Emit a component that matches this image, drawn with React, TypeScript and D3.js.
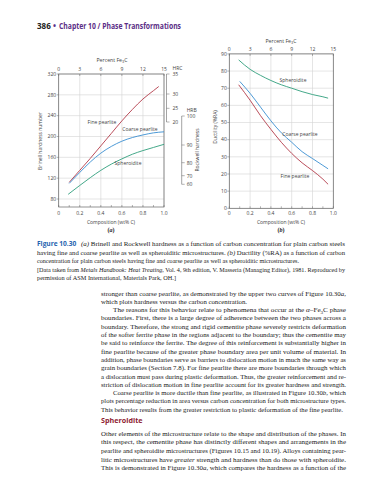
import React from "react";
import * as d3 from "d3";

// ---------- data ----------
const fe3cTicks = [0, 3, 6, 9, 12, 15];
const carbonTicks = [0, 0.2, 0.4, 0.6, 0.8, 1.0];
const brinellTicks = [80, 120, 160, 200, 240, 280, 320];
const hrcTicks = [20, 25, 30, 35];
const hrbTicks = [60, 70, 80, 90, 100];
const ductTicks = [0, 10, 20, 30, 40, 50, 60, 70, 80, 90];

const hardFineC = [0.1, 0.2, 0.3, 0.4, 0.5, 0.6, 0.7, 0.8, 0.9, 0.95];
const hardFine = [112, 135, 158, 182, 206, 230, 252, 272, 288, 296];
const hardCoarseC = [0.1, 0.2, 0.3, 0.4, 0.5, 0.6, 0.7, 0.8, 0.9, 1.0];
const hardCoarse = [110, 131, 151, 168, 181, 191, 198, 203, 207, 209];
const hardSpherC = [0.09, 0.2, 0.3, 0.4, 0.5, 0.6, 0.7, 0.8, 0.9, 1.0];
const hardSpher = [89, 106, 121, 135, 147, 157, 166, 173, 179, 185];

const ductSpherC = [0.09, 0.2, 0.3, 0.4, 0.5, 0.6, 0.7, 0.8, 0.9, 0.95];
const ductSpher = [86.5, 81, 77.5, 74.5, 72, 70, 68, 66.3, 65, 64.2];
const ductCoarseC = [0.1, 0.2, 0.3, 0.4, 0.5, 0.6, 0.7, 0.8, 0.9, 0.95];
const ductCoarse = [74, 67, 59, 51, 44, 38.5, 33, 29, 25, 23];
const ductFineC = [0.09, 0.2, 0.3, 0.4, 0.5, 0.6, 0.7, 0.8, 0.9, 0.95];
const ductFine = [72, 63, 54, 46, 38.5, 32, 26.5, 22, 17, 14];

const RED = "#b23a48";
const BLUE = "#3a8fd1";
const GREEN = "#2f9e7c";
const GRID = "#d4d4d4";
const AXIS = "#666";
const TXT = "#444";
const SANS = "'Open Sans', 'Noto Sans', sans-serif";
const SERIF = "'Liberation Serif', 'Times New Roman', serif";

type Line = { t: React.ReactNode; x: number; end?: number };

const captionLines: Line[] = [
  { t: <><tspan fontStyle="italic">(a)</tspan> Brinell and Rockwell hardness as a function of carbon concentration for plain carbon steels</>, x: 81, end: 345 },
  { t: <>having fine and coarse pearlite as well as spheroiditic microstructures. <tspan fontStyle="italic">(b)</tspan> Ductility (%RA) as a function of carbon</>, x: 37, end: 345 },
  { t: <>concentration for plain carbon steels having fine and coarse pearlite as well as spheroiditic microstructures.</>, x: 37, end: 299 },
  { t: <>[Data taken from <tspan fontStyle="italic">Metals Handbook: Heat Treating,</tspan> Vol. 4, 9th edition, V. Masseria (Managing Editor), 1981. Reproduced by</>, x: 37, end: 345 },
  { t: <>permission of ASM International, Materials Park, OH.]</>, x: 37, end: 176 },
];

const bodyLines: Line[] = [
  { t: <>stronger than coarse pearlite, as demonstrated by the upper two curves of Figure 10.30<tspan fontStyle="italic">a</tspan>,</>, x: 101, end: 346 },
  { t: <>which plots hardness versus the carbon concentration.</>, x: 101, end: 247 },
  { t: <>The reasons for this behavior relate to phenomena that occur at the <tspan fontStyle="italic">α</tspan>–Fe<tspan fontSize="4.5" dy="1.5">3</tspan><tspan dy="-1.5">C phase</tspan></>, x: 113, end: 346 },
  { t: <>boundaries. First, there is a large degree of adherence between the two phases across a</>, x: 101, end: 346 },
  { t: <>boundary. Therefore, the strong and rigid cementite phase severely restricts deformation</>, x: 101, end: 346 },
  { t: <>of the softer ferrite phase in the regions adjacent to the boundary; thus the cementite may</>, x: 101, end: 346 },
  { t: <>be said to reinforce the ferrite. The degree of this reinforcement is substantially higher in</>, x: 101, end: 346 },
  { t: <>fine pearlite because of the greater phase boundary area per unit volume of material. In</>, x: 101, end: 346 },
  { t: <>addition, phase boundaries serve as barriers to dislocation motion in much the same way as</>, x: 101, end: 346 },
  { t: <>grain boundaries (Section 7.8). For fine pearlite there are more boundaries through which</>, x: 101, end: 346 },
  { t: <>a dislocation must pass during plastic deformation. Thus, the greater reinforcement and re-</>, x: 101, end: 346 },
  { t: <>striction of dislocation motion in fine pearlite account for its greater hardness and strength.</>, x: 101, end: 346 },
  { t: <>Coarse pearlite is more ductile than fine pearlite, as illustrated in Figure 10.30<tspan fontStyle="italic">b</tspan>, which</>, x: 113, end: 346 },
  { t: <>plots percentage reduction in area versus carbon concentration for both microstructure types.</>, x: 101, end: 346 },
  { t: <>This behavior results from the greater restriction to plastic deformation of the fine pearlite.</>, x: 101, end: 343 },
];

const sphLines: Line[] = [
  { t: <>Other elements of the microstructure relate to the shape and distribution of the phases. In</>, x: 101, end: 346 },
  { t: <>this respect, the cementite phase has distinctly different shapes and arrangements in the</>, x: 101, end: 346 },
  { t: <>pearlite and spheroidite microstructures (Figures 10.15 and 10.19). Alloys containing pear-</>, x: 101, end: 346 },
  { t: <>litic microstructures have <tspan fontStyle="italic">greater</tspan> strength and hardness than do those with spheroidite.</>, x: 101, end: 346 },
  { t: <>This is demonstrated in Figure 10.30<tspan fontStyle="italic">a</tspan>, which compares the hardness as a function of the</>, x: 101, end: 346 },
];

function TextBlock({ lines, y0, dy, size }: { lines: Line[]; y0: number; dy: number; size: number }) {
  return (
    <g fontFamily={SERIF} fontSize={size} fill="#1a1a1a">
      {lines.map((l, i) => (
        <text key={i} x={l.x} y={y0 + i * dy} textLength={l.end ? l.end - l.x : undefined} lengthAdjust="spacingAndGlyphs">
          {l.t}
        </text>
      ))}
    </g>
  );
}

function Fe3CLabel({ x, y }: { x: number; y: number }) {
  return (
    <text x={x} y={y} textAnchor="middle" fontSize={5.2} fill={TXT} fontFamily={SANS}>
      Percent Fe<tspan fontSize={3.8} dy={1.2}>3</tspan><tspan dy={-1.2}>C</tspan>
    </text>
  );
}

function ChartA() {
  const x = d3.scaleLinear().domain([0, 1]).range([58.7, 164]);
  const y = d3.scaleLinear().domain([320, 80]).range([74, 199]);
  const yBottom = 207;
  const yTop = y(320);
  const fe = d3.scaleLinear().domain([0, 15]).range([x(0), x(1)]);
  const hrc = d3.scaleLinear().domain([20, 25, 30, 35]).range([122, 108.3, 94, 74]);
  const hrb = d3.scaleLinear().domain([60, 70, 80, 90, 100]).range([184.3, 175.7, 162.7, 145, 116]);
  const line = d3.line<[number, number]>().x((d) => x(d[0])).y((d) => y(d[1])).curve(d3.curveMonotoneX);
  const zip = (a: number[], b: number[]) => a.map((v, i) => [v, b[i]] as [number, number]);
  const minor = d3.range(0, 1.001, 0.1);
  const hrcX = 166.5;
  const hrbX = 181.7;
  return (
    <g>
      {carbonTicks.map((c) => (
        <line key={"vg" + c} x1={x(c)} x2={x(c)} y1={yTop} y2={yBottom} stroke={GRID} strokeWidth={0.6} />
      ))}
      {brinellTicks.map((b) => (
        <line key={"hg" + b} x1={x(0)} x2={x(1)} y1={y(b)} y2={y(b)} stroke={GRID} strokeWidth={0.6} />
      ))}
      <rect x={x(0)} y={yTop} width={x(1) - x(0)} height={yBottom - yTop} fill="none" stroke={AXIS} strokeWidth={0.7} />
      {minor.map((c, i) => (
        <line key={"mb" + i} x1={x(c)} x2={x(c)} y1={yBottom} y2={yBottom - 2} stroke={AXIS} strokeWidth={0.5} />
      ))}
      {fe3cTicks.map((f) => (
        <line key={"tf" + f} x1={fe(f)} x2={fe(f)} y1={yTop} y2={yTop + 2} stroke={AXIS} strokeWidth={0.5} />
      ))}
      {brinellTicks.map((b) => (
        <g key={"bl" + b}>
          <line x1={x(0) - 2} x2={x(0)} y1={y(b)} y2={y(b)} stroke={AXIS} strokeWidth={0.5} />
          <text x={x(0) - 2.5} y={y(b) + 1.8} textAnchor="end" fontSize={5} fill={TXT} fontFamily={SANS}>{b}</text>
        </g>
      ))}
      {carbonTicks.map((c) => (
        <text key={"xl" + c} x={x(c)} y={214.5} textAnchor="middle" fontSize={5} fill={TXT} fontFamily={SANS}>
          {c === 0 ? "0" : c.toFixed(1)}
        </text>
      ))}
      {fe3cTicks.map((f) => (
        <text key={"fl" + f} x={fe(f)} y={71} textAnchor="middle" fontSize={5} fill={TXT} fontFamily={SANS}>{f}</text>
      ))}
      <Fe3CLabel x={112} y={62} />
      <text x={111} y={224} textAnchor="middle" fontSize={5} fill={TXT} fontFamily={SANS}>Composition (wt% C)</text>
      <text x={111} y={232} textAnchor="middle" fontSize={6} fontWeight="bold" fontFamily={SERIF} fill="#222">(<tspan fontStyle="italic">a</tspan>)</text>
      <text transform={`translate(41.5,141) rotate(-90)`} textAnchor="middle" fontSize={5} fill={TXT} fontFamily={SANS}>Brinell hardness number</text>

      {/* HRC axis */}
      <line x1={hrcX} x2={hrcX} y1={hrc(35)} y2={hrc(20)} stroke={AXIS} strokeWidth={0.6} />
      {hrcTicks.map((h) => (
        <g key={"hrc" + h}>
          <line x1={hrcX} x2={hrcX + 3} y1={hrc(h)} y2={hrc(h)} stroke={AXIS} strokeWidth={0.5} />
          <text x={hrcX + 6} y={hrc(h) + 1.8} fontSize={5} fill={TXT} fontFamily={SANS}>{h}</text>
        </g>
      ))}
      <text x={hrcX + 6} y={69.5} fontSize={5} fill={TXT} fontFamily={SANS}>HRC</text>

      {/* HRB axis */}
      <line x1={hrbX} x2={hrbX} y1={hrb(100)} y2={hrb(60)} stroke={AXIS} strokeWidth={0.6} />
      {hrbTicks.map((h) => (
        <g key={"hrb" + h}>
          <line x1={hrbX} x2={hrbX + 3} y1={hrb(h)} y2={hrb(h)} stroke={AXIS} strokeWidth={0.5} />
          <text x={hrbX + 5} y={hrb(h) + 1.8} fontSize={5} fill={TXT} fontFamily={SANS}>{h}</text>
        </g>
      ))}
      <text x={hrbX + 5} y={111.5} fontSize={5} fill={TXT} fontFamily={SANS}>HRB</text>
      <text transform={`translate(199,150) rotate(-90)`} textAnchor="middle" fontSize={5} fill={TXT} fontFamily={SANS}>Rockwell hardness</text>

      <path d={line(zip(hardFineC, hardFine))!} fill="none" stroke={RED} strokeWidth={0.9} />
      <path d={line(zip(hardCoarseC, hardCoarse))!} fill="none" stroke={BLUE} strokeWidth={0.9} />
      <path d={line(zip(hardSpherC, hardSpher))!} fill="none" stroke={GREEN} strokeWidth={0.9} />
      <text x={102} y={124} textAnchor="middle" fontSize={5} fill={TXT} fontFamily={SANS}>Fine pearlite</text>
      <text x={140} y={131} textAnchor="middle" fontSize={5} fill={TXT} fontFamily={SANS}>Coarse pearlite</text>
      <text x={128} y={165} textAnchor="middle" fontSize={5} fill={TXT} fontFamily={SANS}>Spheroidite</text>
    </g>
  );
}

function ChartB() {
  const x = d3.scaleLinear().domain([0, 1]).range([229.3, 333.3]);
  const y = d3.scaleLinear().domain([0, 90]).range([208.3, 53.9]);
  const fe = d3.scaleLinear().domain([0, 15]).range([x(0), x(1)]);
  const line = d3.line<[number, number]>().x((d) => x(d[0])).y((d) => y(d[1])).curve(d3.curveMonotoneX);
  const zip = (a: number[], b: number[]) => a.map((v, i) => [v, b[i]] as [number, number]);
  const minor = d3.range(0, 1.001, 0.1);
  return (
    <g>
      {carbonTicks.map((c) => (
        <line key={"vg" + c} x1={x(c)} x2={x(c)} y1={y(90)} y2={y(0)} stroke={GRID} strokeWidth={0.6} />
      ))}
      {ductTicks.map((d) => (
        <line key={"hg" + d} x1={x(0)} x2={x(1)} y1={y(d)} y2={y(d)} stroke={GRID} strokeWidth={0.6} />
      ))}
      <rect x={x(0)} y={y(90)} width={x(1) - x(0)} height={y(0) - y(90)} fill="none" stroke={AXIS} strokeWidth={0.7} />
      {minor.map((c, i) => (
        <line key={"mb" + i} x1={x(c)} x2={x(c)} y1={y(0)} y2={y(0) - 2} stroke={AXIS} strokeWidth={0.5} />
      ))}
      {fe3cTicks.map((f) => (
        <line key={"tf" + f} x1={fe(f)} x2={fe(f)} y1={y(90)} y2={y(90) + 2} stroke={AXIS} strokeWidth={0.5} />
      ))}
      {ductTicks.map((d) => (
        <g key={"dl" + d}>
          <line x1={x(0) - 2} x2={x(0)} y1={y(d)} y2={y(d)} stroke={AXIS} strokeWidth={0.5} />
          <text x={x(0) - 2.5} y={y(d) + 1.8} textAnchor="end" fontSize={5} fill={TXT} fontFamily={SANS}>{d}</text>
        </g>
      ))}
      {carbonTicks.map((c) => (
        <text key={"xl" + c} x={x(c)} y={214.5} textAnchor="middle" fontSize={5} fill={TXT} fontFamily={SANS}>
          {c === 0 ? "0" : c.toFixed(1)}
        </text>
      ))}
      {fe3cTicks.map((f) => (
        <text key={"fl" + f} x={fe(f)} y={50.5} textAnchor="middle" fontSize={5} fill={TXT} fontFamily={SANS}>{f}</text>
      ))}
      <Fe3CLabel x={281} y={43} />
      <text x={281} y={224} textAnchor="middle" fontSize={5} fill={TXT} fontFamily={SANS}>Composition (wt% C)</text>
      <text x={281} y={232} textAnchor="middle" fontSize={6} fontWeight="bold" fontFamily={SERIF} fill="#222">(<tspan fontStyle="italic">b</tspan>)</text>
      <text transform={`translate(217,127) rotate(-90)`} textAnchor="middle" fontSize={5} fill={TXT} fontFamily={SANS}>Ductility (%RA)</text>

      <path d={line(zip(ductSpherC, ductSpher))!} fill="none" stroke={GREEN} strokeWidth={0.9} />
      <path d={line(zip(ductCoarseC, ductCoarse))!} fill="none" stroke={BLUE} strokeWidth={0.9} />
      <path d={line(zip(ductFineC, ductFine))!} fill="none" stroke={RED} strokeWidth={0.9} />
      <text x={293} y={81.5} textAnchor="middle" fontSize={5} fill={TXT} fontFamily={SANS}>Spheroidite</text>
      <text x={300} y={135.5} textAnchor="middle" fontSize={5} fill={TXT} fontFamily={SANS}>Coarse pearlite</text>
      <text x={295} y={177.5} textAnchor="middle" fontSize={5} fill={TXT} fontFamily={SANS}>Fine pearlite</text>
    </g>
  );
}

export default function App() {
  return (
    <svg width={383} height={480} style={{ position: "absolute", left: 0, top: 0, background: "#fff" }}>
      <rect width={383} height={480} fill="#fff" />
      {/* header */}
      <text x={37} y={29} fontFamily={SANS} fontWeight="bold" fontSize={8} fill="#222">386</text>
      <text x={53} y={29} fontFamily={SANS} fontWeight="bold" fontSize={8} fill="#5b2d86">•</text>
      <text x={59} y={29} fontFamily={SANS} fontWeight="bold" fontSize={8} fill="#5b2d86" textLength={122} lengthAdjust="spacingAndGlyphs">
        Chapter 10   /   Phase Transformations
      </text>

      <ChartA />
      <ChartB />

      {/* caption */}
      <text x={37} y={246} fontFamily={SANS} fontWeight="bold" fontSize={6.6} fill="#1f63b0">Figure 10.30</text>
      <TextBlock lines={captionLines} y0={246} dy={8.5} size={6.1} />

      {/* body */}
      <TextBlock lines={bodyLines} y0={295.5} dy={8.3} size={6.4} />
      <text x={101} y={423} fontFamily={SANS} fontWeight="bold" fontSize={7.2} fill="#8e1b32">Spheroidite</text>
      <TextBlock lines={sphLines} y0={435.5} dy={8.7} size={6.4} />
    </svg>
  );
}
